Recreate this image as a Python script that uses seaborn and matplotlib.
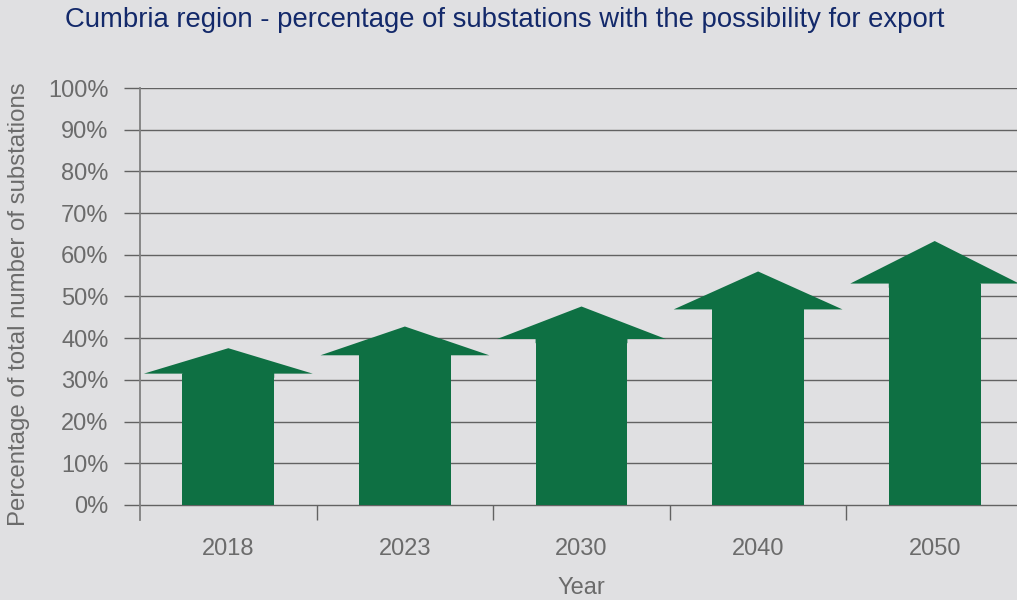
"""Cumbria substations export chart, drawn as up arrows."""

import matplotlib

matplotlib.use("Agg")
import matplotlib.pyplot as plt
import numpy as np
import pandas as pd
import seaborn as sns

YEARS = ["2018", "2023", "2030", "2040", "2050"]
# top of the arrow shaft and tip of the arrow head (% of substations)
SHAFT_TOP = [31.5, 35.9, 39.8, 46.9, 53.1]
ARROW_TIP = [37.6, 42.8, 47.6, 56.0, 63.3]
Y_TICKS = [0, 10, 20, 30, 40, 50, 60, 70, 80, 90, 100]

BG = "#e0e0e2"
GREEN = "#0e7043"
GRID = "#626262"
TEXT_GREY = "#6b6b6b"
NAVY = "#13296a"

data = pd.DataFrame({"year": YEARS, "shaft": SHAFT_TOP, "tip": ARROW_TIP})

sns.set_style("white")
plt.rcParams["font.family"] = ["Liberation Sans", "DejaVu Sans"]

fig = plt.figure(figsize=(10.17, 6.0), dpi=100, facecolor=BG)
ax = fig.add_axes([140 / 1017, 80 / 600, 883 / 1017, 432 / 600])
ax.set_facecolor(BG)

shaft_w = 0.52
sns.barplot(data=data, x="year", y="shaft", color=GREEN, width=shaft_w,
            saturation=1, linewidth=0, ax=ax, zorder=3)

# arrow heads on top of each shaft; the head reaches a little way down
# into the shaft so no seam shows where the two shapes meet
head_half = 0.478
sw = shaft_w / 2
for i, row in data.iterrows():
    s, t = row["shaft"], row["tip"]
    xs = [i - sw, i - sw, i - head_half, i, i + head_half, i + sw, i + sw]
    ys = [s - 1, s, s, t, s, s, s - 1]
    ax.fill(xs, ys, facecolor=GREEN, linewidth=0, zorder=3)

ax.set_xlim(-0.5, 4.5)
ax.set_ylim(-3.6, 100)
ax.set_yticks(Y_TICKS)
ax.set_yticklabels([f"{t}%" for t in Y_TICKS])
ax.yaxis.grid(True, color=GRID, linewidth=1.0)
ax.set_axisbelow(True)

for side in ["top", "right", "bottom"]:
    ax.spines[side].set_visible(False)
ax.spines["left"].set_color("#808080")
ax.spines["left"].set_linewidth(1.3)

ax.tick_params(axis="y", direction="out", length=11.5, width=1.0, color=GRID,
               pad=11, labelsize=17, labelcolor=TEXT_GREY, left=True)
ax.tick_params(axis="x", direction="in", length=11, width=1.0, color=GRID,
               pad=13, labelsize=17, labelcolor=TEXT_GREY, bottom=True)

# x tick marks sit on the category boundaries, labels on the centres
ax.set_xticks(np.arange(len(YEARS)))
ax.set_xticklabels(YEARS)
ax.set_xticks(np.arange(len(YEARS)) + 0.5, minor=True)
ax.tick_params(axis="x", which="major", length=0)
ax.tick_params(axis="x", which="minor", direction="in", length=11,
               width=1.0, color=GRID, bottom=True)

ax.set_xlabel("Year", fontsize=17, color=TEXT_GREY, labelpad=12)
ax.set_ylabel("Percentage of total number of substations", fontsize=17.3,
              color=TEXT_GREY)
ax.yaxis.set_label_coords(-0.1246, 0.5)

fig.text(0.496, 0.967, "Cumbria region - percentage of substations with the possibility for export",
         ha="center", va="center", fontsize=19.8, color=NAVY)

plt.savefig("out.png", dpi=100, facecolor=BG)
plt.close()
